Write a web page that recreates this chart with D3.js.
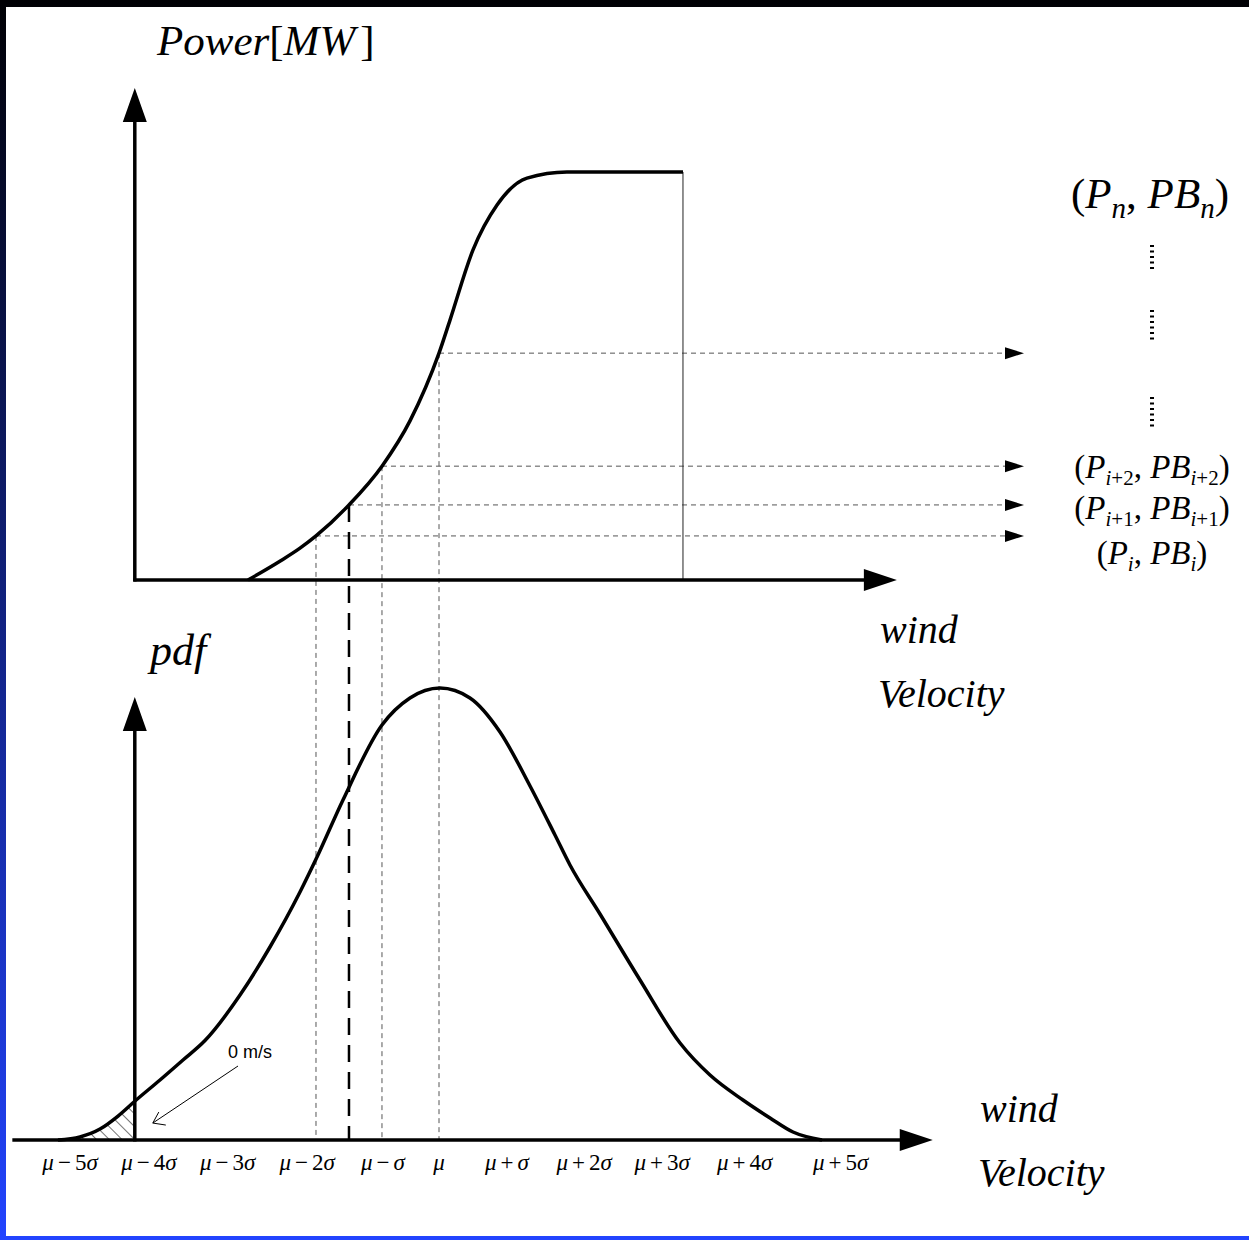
<!DOCTYPE html>
<html>
<head>
<meta charset="utf-8">
<script src="https://cdn.jsdelivr.net/npm/d3@7"></script>
<style>
  html, body { margin: 0; padding: 0; background: #fff; overflow: hidden; }
  svg { display: block; }
</style>
</head>
<body>
<script>
// Wind velocity is measured in σ units around the mean μ.
const tickLabels    = ["μ−5σ", "μ−4σ", "μ−3σ", "μ−2σ", "μ−σ", "μ", "μ+σ", "μ+2σ", "μ+3σ", "μ+4σ", "μ+5σ"];
const tickPositions = [-4.73, -3.72, -2.71, -1.69, -0.72, 0, 0.87, 1.86, 2.86, 3.92, 5.15];

// Turbine power curve (fraction of rated power) against wind velocity
const powerWind = [-2.449, -2.04, -1.782, -1.577, -1.154, -0.731, -0.372, 0, 0.141, 0.436, 0.744, 1.128, 1.641, 3.128];
const powerOut  = [0, 0.046, 0.078, 0.108, 0.184, 0.279, 0.390, 0.556, 0.637, 0.809, 0.919, 0.985, 1, 1];

// Probability density of wind velocity
const pdfWind = [-4.885, -4.603, -4.346, -4.115, -3.897, -3.577, -3.282, -3.0, -2.551, -2.167, -1.782, -1.564, -1.231,
                 -0.731, -0.372, 0.013, 0.397, 0.782, 1.167, 1.487, 1.679, 2.064, 2.577, 3.09, 3.474, 3.897, 4.244, 4.538, 4.91];
const pdfValue = [0, 0.0027, 0.0097, 0.0212, 0.0345, 0.0531, 0.0708, 0.0880, 0.1283, 0.1708, 0.2195, 0.2504, 0.3009,
                  0.3673, 0.3912, 0.4, 0.3912, 0.3611, 0.3133, 0.2699, 0.2434, 0.2, 0.1416, 0.0858, 0.0575, 0.0354, 0.0195, 0.0071, 0];

// Discrete wind states mapped to power states
const stateWind     = [-1.577, -1.154, -0.731, 0];
const statePower    = [0.108, 0.184, 0.279, 0.556];
const stateEmphasis = [false, true, false, false];

// Power-state labels (subscript of P / PB)
const stateLabelSubs = ["i", "i+1", "i+2"];
const topStateSub    = "n";

const zeroWind = -3.9;   // 0 m/s sits on the vertical axes

const W = 1249, H = 1240;
const SERIF = "'Liberation Serif', 'Times New Roman', serif";
const SANS  = "'Liberation Sans', Arial, sans-serif";

const x  = d3.scaleLinear().domain([-5, 5]).range([49, 829]);
const yP = d3.scaleLinear().domain([0, 1]).range([580, 172]);
const yD = d3.scaleLinear().domain([0, 0.4]).range([1140, 688]);

const svg = d3.select("body").append("svg").attr("width", W).attr("height", H);
const defs = svg.append("defs");

const grad = defs.append("linearGradient").attr("id", "frame")
  .attr("x1", 0).attr("y1", 0).attr("x2", 0).attr("y2", 1);
grad.append("stop").attr("offset", "0%").attr("stop-color", "#000004");
grad.append("stop").attr("offset", "100%").attr("stop-color", "#2244ff");

const hatch = defs.append("pattern").attr("id", "hatch")
  .attr("patternUnits", "userSpaceOnUse").attr("width", 9).attr("height", 9)
  .attr("patternTransform", "rotate(-45)");
hatch.append("line").attr("x1", 0).attr("y1", 0).attr("x2", 0).attr("y2", 9)
  .attr("stroke", "#000").attr("stroke-width", 1.1);

// Frame and white panel
svg.append("rect").attr("width", W).attr("height", H).attr("fill", "url(#frame)");
svg.append("rect").attr("x", 6).attr("y", 7).attr("width", W - 6).attr("height", 1229).attr("fill", "#fff");

const powerPts = powerWind.map((w, i) => [w, powerOut[i]]);
const pdfPts   = pdfWind.map((w, i) => [w, pdfValue[i]]);

const powerLine = d3.line().x(d => x(d[0])).y(d => yP(d[1])).curve(d3.curveMonotoneX);
const pdfLine   = d3.line().x(d => x(d[0])).y(d => yD(d[1])).curve(d3.curveMonotoneX);
const pdfArea   = d3.area().x(d => x(d[0])).y0(yD(0)).y1(d => yD(d[1])).curve(d3.curveMonotoneX);

// Probability of negative wind (below 0 m/s), hatched
defs.append("clipPath").attr("id", "underPdf").append("path").attr("d", pdfArea(pdfPts));
svg.append("rect")
  .attr("x", x(-5.2)).attr("y", yD(0.1))
  .attr("width", x(zeroWind) - x(-5.2)).attr("height", yD(0) - yD(0.1))
  .attr("fill", "url(#hatch)").attr("clip-path", "url(#underPdf)");

// Projection lines from wind states through the power curve
const arrowEnd = 7.5;
stateWind.forEach((w, i) => {
  const strong = stateEmphasis[i];
  svg.append("line")
    .attr("x1", x(w)).attr("x2", x(w))
    .attr("y1", yP(statePower[i])).attr("y2", yD(0))
    .attr("stroke", strong ? "#000" : "#555")
    .attr("stroke-width", strong ? 2.5 : 1)
    .attr("stroke-dasharray", strong ? "17,10" : "5,4");
  const yy = yP(statePower[i]);
  svg.append("line")
    .attr("x1", x(w)).attr("x2", x(arrowEnd) - 18)
    .attr("y1", yy).attr("y2", yy)
    .attr("stroke", "#555").attr("stroke-width", 1).attr("stroke-dasharray", "5,4");
  svg.append("path")
    .attr("d", `M${x(arrowEnd)},${yy} L${x(arrowEnd) - 19},${yy - 6} L${x(arrowEnd) - 19},${yy + 6} Z`)
    .attr("fill", "#000");
});

// Cut-out edge of the power curve
const last = powerPts[powerPts.length - 1];
svg.append("line")
  .attr("x1", x(last[0])).attr("x2", x(last[0]))
  .attr("y1", yP(last[1])).attr("y2", yP(0))
  .attr("stroke", "#222").attr("stroke-width", 1);

// Curves
svg.append("path").attr("d", powerLine(powerPts))
  .attr("fill", "none").attr("stroke", "#000").attr("stroke-width", 3.5);
svg.append("path").attr("d", pdfLine(pdfPts))
  .attr("fill", "none").attr("stroke", "#000").attr("stroke-width", 3.5);

// Axes with arrow heads
function hArrow(x0, x1, y) {
  svg.append("line").attr("x1", x0).attr("x2", x1 - 20).attr("y1", y).attr("y2", y)
    .attr("stroke", "#000").attr("stroke-width", 3.5);
  svg.append("path").attr("d", `M${x1},${y} L${x1 - 33},${y - 11} L${x1 - 33},${y + 11} Z`).attr("fill", "#000");
}
function vArrow(xx, y0, y1) {
  svg.append("line").attr("x1", xx).attr("x2", xx).attr("y1", y0).attr("y2", y1 + 20)
    .attr("stroke", "#000").attr("stroke-width", 3.5);
  svg.append("path").attr("d", `M${xx},${y1} L${xx - 12},${y1 + 34} L${xx + 12},${y1 + 34} Z`).attr("fill", "#000");
}
hArrow(x(zeroWind) - 1.5, x(5.87), yP(0));
vArrow(x(zeroWind), yP(0) + 1.5, yP(1.206));
hArrow(x(-5.47), x(6.33), yD(0));
vArrow(x(zeroWind), yD(0) + 1.5, yD(0.392));

// Rich text helper: parts are {t, i (italic), sub, dx}
function rich(px, py, parts, o) {
  const t = svg.append("text").attr("x", px).attr("y", py)
    .attr("text-anchor", o.anchor || "start")
    .attr("font-family", SERIF).attr("font-size", o.size).attr("fill", "#000");
  let shift = 0;
  parts.forEach(p => {
    const ts = t.append("tspan").text(p.t).attr("font-style", p.i ? "italic" : "normal");
    const target = p.sub ? o.subShift : 0;
    if (target !== shift) { ts.attr("dy", target - shift); shift = target; }
    if (p.sub) ts.attr("font-size", o.subSize);
    if (p.dx) ts.attr("dx", p.dx);
  });
  return t;
}

// Tick labels along the velocity axis
tickLabels.forEach((lab, k) => {
  const parts = [];
  let gap = 0;
  for (const c of lab) {
    if (c === "−" || c === "+") {
      parts.push({ t: c, dx: 4 });
      gap = 4;
    } else {
      parts.push({ t: c, i: (c === "μ" || c === "σ"), dx: gap });
      gap = 0;
    }
  }
  rich(x(tickPositions[k]), 1170, parts, { size: 23, anchor: "middle" });
});

// Axis titles
rich(157, 55, [{ t: "Power", i: true }, { t: "[" }, { t: "MW", i: true }, { t: "]", dx: 5 }], { size: 43 });
rich(150, 665, [{ t: "pdf", i: true }], { size: 44 });
rich(880, 643, [{ t: "wind", i: true }], { size: 40 });
rich(878, 707, [{ t: "Velocity", i: true }], { size: 40 });
rich(980, 1122, [{ t: "wind", i: true }], { size: 40 });
rich(978, 1186, [{ t: "Velocity", i: true }], { size: 40 });

// Power-state labels
function subParts(s) {
  return s.split("").map(c => ({ t: c, i: /[a-z]/.test(c), sub: true }));
}
function stateLabel(s) {
  return [{ t: "(" }, { t: "P", i: true }, ...subParts(s), { t: ", " }, { t: "PB", i: true }, ...subParts(s), { t: ")" }];
}
rich(1150, 208, stateLabel(topStateSub), { size: 43, subSize: 29, subShift: 10, anchor: "middle" });
const stateBaselines = [564, 519, 478];
stateLabelSubs.forEach((s, k) => {
  rich(1152, stateBaselines[k], stateLabel(s), { size: 33, subSize: 21, subShift: 7, anchor: "middle" });
});

// Vertical ellipses between the states
[[245, 272], [310, 343], [397, 428]].forEach(([a, b]) => {
  svg.append("line").attr("x1", 1152).attr("x2", 1152).attr("y1", a).attr("y2", b)
    .attr("stroke", "#000").attr("stroke-width", 4).attr("stroke-dasharray", "2,3.5");
});

// 0 m/s annotation
svg.append("text").attr("x", 228).attr("y", 1058)
  .attr("font-family", SANS).attr("font-size", 18).text("0 m/s");
const tip = [x(zeroWind) + 18, yD(0.015)];
svg.append("line").attr("x1", 238).attr("y1", 1066).attr("x2", tip[0]).attr("y2", tip[1])
  .attr("stroke", "#000").attr("stroke-width", 1);
svg.append("path")
  .attr("d", `M${tip[0] + 6},${tip[1] - 11} L${tip[0]},${tip[1]} L${tip[0] + 13},${tip[1] + 2}`)
  .attr("fill", "none").attr("stroke", "#000").attr("stroke-width", 1);
</script>
</body>
</html>
